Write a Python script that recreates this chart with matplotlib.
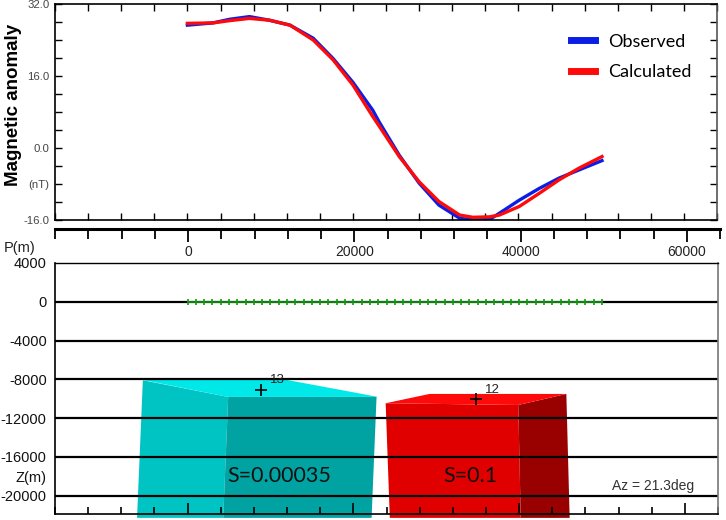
import numpy as np
import matplotlib
matplotlib.use("Agg")
import matplotlib.pyplot as plt
from matplotlib.patches import Polygon
from matplotlib.ticker import FixedLocator, MultipleLocator, NullFormatter

# profile data (m, nT)
dist = [0, 3100, 5100, 7500, 9900, 12400, 15200, 17600, 20000, 22400, 23200,
        25600, 28000, 30400, 32900, 34500, 36500, 37700, 40100, 42500, 44900,
        47300, 50100]
observed = [27.3, 27.8, 28.6, 29.2, 28.4, 27.3, 24.4, 19.9, 14.6, 8.4, 5.7,
            -1.6, -7.8, -12.7, -15.6, -16.0, -15.9, -14.5, -11.6, -9.0, -6.7,
            -4.9, -2.8]
calculated = [27.7, 27.8, 28.3, 28.8, 28.4, 27.3, 24.0, 19.6, 14.0, 7.0, 4.8,
              -1.9, -7.5, -11.9, -14.9, -15.4, -15.3, -14.9, -13.0, -10.1, -7.1,
              -4.5, -1.9]

stations = list(range(0, 50001, 1000))

# model bodies (x, z in m)
cyan_top = [(-5400, -8070), (12000, -8070), (23000, -9820), (4900, -9820)]
cyan_left = [(-5400, -8100), (4900, -9820), (4300, -22300), (-6100, -22300)]
cyan_front = [(4900, -9820), (22800, -9820), (22200, -22300), (4300, -22300)]
red_top = [(23900, -10470), (29200, -9510), (45700, -9510), (39900, -10650)]
red_front = [(23900, -10470), (39900, -10650), (40200, -22300), (24400, -22300)]
red_right = [(39900, -10650), (45700, -9510), (46100, -22300), (40200, -22300)]
body_ids = ["13", "12"]
body_centers = [(8800, -9100), (34800, -10060)]
body_labels = ["S=0.00035", "S=0.1"]

W, H = 726, 520
fig = plt.figure(figsize=(W / 100, H / 100), dpi=100)

def box(l, t, r, b):
    return [l / W, 1 - b / H, (r - l) / W, (b - t) / H]

xmin, xmax = -16000, 64000

# ---- top: anomaly
ax1 = fig.add_axes(box(55, 4, 717, 220))
ax1.plot(dist, observed, color="#0a1ee6", lw=2.4, label="Observed")
ax1.plot(dist, calculated, color="#ff0a0a", lw=2.4, label="Calculated")
ax1.set_xlim(xmin, xmax)
ax1.set_ylim(-16, 32)
ax1.xaxis.set_major_locator(MultipleLocator(4000))
ax1.xaxis.set_major_formatter(NullFormatter())
ax1.tick_params(axis="x", direction="in", top=True, bottom=True, length=5, width=1)
ax1.yaxis.set_major_locator(FixedLocator([32, 16, 0, -8, -16]))
ax1.yaxis.set_minor_locator(MultipleLocator(4))
ax1.set_yticklabels(["32.0", "16.0", "0.0", "(nT)", "-16.0"])
ax1.tick_params(axis="y", which="both", direction="in", left=True, right=True,
                length=5, width=1, labelsize=8.2, labelcolor="#444444", pad=4)
for t in ax1.get_yticklabels():
    t.set_family("Liberation Sans")
for s in ax1.spines.values():
    s.set_linewidth(1.2)
ax1.spines["right"].set_color("#555555")
ax1.set_ylabel("Magnetic anomaly", fontsize=13.5, fontweight="bold",
               family="Liberation Sans")
ax1.yaxis.set_label_coords(-0.05, 0.532)
leg = ax1.legend(loc="upper left", bbox_to_anchor=(0.779, 0.862), frameon=False,
                 borderpad=0, borderaxespad=0,
                 handlelength=1.35, handletextpad=0.72, labelspacing=0.78,
                 prop=dict(family="Lato", size=13))
for ln in leg.get_lines():
    ln.set_linewidth(5)

# ---- profile axis
axp = fig.add_axes(box(55, 226, 720, 228.5))
axp.set_xlim(xmin, xmax)
axp.set_yticks([])
for k in ["top", "left", "right"]:
    axp.spines[k].set_visible(False)
axp.spines["bottom"].set_linewidth(2.2)
axp.xaxis.set_major_locator(FixedLocator([0, 20000, 40000, 60000]))
axp.xaxis.set_minor_locator(MultipleLocator(4000))
axp.tick_params(axis="x", which="major", direction="out", length=9, width=1.3,
                labelsize=10, pad=3)
axp.tick_params(axis="x", which="minor", direction="out", length=7, width=1.3)
for t in axp.get_xticklabels():
    t.set_family("Liberation Sans")
    t.set_color("#222222")
fig.text(4 / W, 1 - 248 / H, "P(m)", fontsize=10.5, family="Liberation Sans",
         va="center", color="#222222")

# ---- bottom: model section
ax2 = fig.add_axes(box(55, 263, 718, 514))
ax2.set_xlim(xmin, xmax)
ax2.set_ylim(-21900, 4000)
for verts, col in [(cyan_left, "#00c4c4"), (cyan_front, "#00a2a2"), (cyan_top, "#00e8e8"),
                   (red_front, "#e00000"), (red_right, "#990000"), (red_top, "#ff0a0a")]:
    ax2.add_patch(Polygon(verts, closed=True, facecolor=col, edgecolor="none",
                          clip_on=False, zorder=1))
for z in [0, -4000, -8000, -12000, -16000, -20000]:
    ax2.axhline(z, color="black", lw=1.6, zorder=2)
ax2.plot(stations, [0] * len(stations), color="#119911", lw=1.2, marker="|",
         ms=5, mew=1.2, zorder=3)
for (cx, cz), lab in zip(body_centers, body_ids):
    ax2.plot(cx, cz, marker="+", color="black", ms=8, mew=1.2, zorder=4)
    ax2.text(cx + 1100, cz + 1000, lab, fontsize=9.5, family="Liberation Sans",
             ha="left", va="center", color="#222222", zorder=4)
ax2.text(11100, -17960, body_labels[0], fontsize=15.5, family="Lato", ha="center",
         va="center", color="#111111", zorder=4)
ax2.text(34100, -17990, body_labels[1], fontsize=15.5, family="Lato", ha="center",
         va="center", color="#111111", zorder=4)
ax2.text(56200, -19030, "Az = 21.3deg", fontsize=10, family="Liberation Sans",
         ha="center", va="center", color="#333333", zorder=4)
ax2.set_yticks([4000, 0, -4000, -8000, -12000, -16000, -18000, -20000])
ax2.set_yticklabels(["4000", "0", "-4000", "-8000", "-12000", "-16000", "Z(m)", "-20000"])
ax2.tick_params(axis="y", length=0, pad=6, labelsize=10.5, labelcolor="#111111")
for t in ax2.get_yticklabels():
    t.set_family("Liberation Sans")
ax2.xaxis.set_major_locator(FixedLocator([0, 20000, 40000, 60000]))
ax2.xaxis.set_minor_locator(MultipleLocator(4000))
ax2.xaxis.set_major_formatter(NullFormatter())
ax2.tick_params(axis="x", which="major", direction="in", length=8, width=1.2)
ax2.tick_params(axis="x", which="minor", direction="in", length=5, width=1.2)
for s in ax2.spines.values():
    s.set_linewidth(1.2)
    s.set_zorder(5)
ax2.spines["right"].set_color("#777777")
ax2.spines["top"].set_linewidth(1.0)

fig.savefig("out.png", dpi=100)
